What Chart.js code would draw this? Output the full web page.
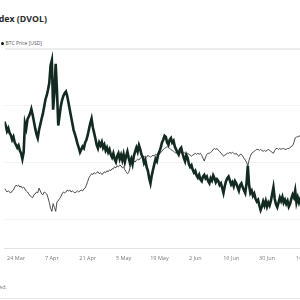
<!DOCTYPE html>
<html>
<head>
<meta charset="utf-8">
<script src="https://cdn.jsdelivr.net/npm/chart.js@4/dist/chart.umd.min.js"></script>
<style>
  html, body { margin: 0; padding: 0; background: #fff; }
  body { width: 300px; height: 300px; overflow: hidden; position: relative; font-family: 'Open Sans', sans-serif; }
  #title { position: absolute; right: 253px; top: 14px; line-height: 10px; font-size: 8.8px; font-weight: 700; color: #2b2b2b; white-space: nowrap; }
  #legend { position: absolute; right: 258px; top: 40px; line-height: 6px; font-size: 5px; color: #555; white-space: nowrap; }
  #legend .dot { display: inline-block; width: 3px; height: 3px; border-radius: 50%; background: #111; margin: 0 1.5px 0 4px; vertical-align: middle; }
  #note { position: absolute; right: 293px; top: 284px; line-height: 6px; font-size: 5.5px; color: #777; white-space: nowrap; }
  #rule { position: absolute; left: 0; width: 300px; top: 298px; height: 1px; background: #e8e8e8; }
  #wrap { position: absolute; left: 0; top: 0; width: 340px; height: 300px; }
</style>
</head>
<body>
<div id="title">BTC Price vs. Bitcoin Volatility Index (DVOL)</div>
<div id="legend"><span class="dot" style="background:#122a1f"></span>DVOL <span class="dot"></span>BTC Price [USD]</div>
<div id="wrap"><canvas id="chart"></canvas></div>
<div id="note">Source: Deribit. All rights reserved.</div>
<div id="rule"></div>
<script>
// sampling grid: day 0 = 24 Mar, one value every half day
const START_DAY = -5;
const STEP_DAYS = 0.5;

const tickDays = [0, 14, 28, 42, 56, 70, 84, 98, 112];
const tickLabels = ['24 Mar', '7 Apr', '21 Apr', '5 May', '19 May', '2 Jun', '16 Jun', '30 Jun', '14 Jul'];
const dvolGridTicks = [40, 50, 60, 70];

const dvol = [
  57.9, 57.2, 56.5, 55.5, 56.0, 55.2, 54.8, 54.0, 54.5, 53.5,
  53.1, 52.6, 53.0, 52.1, 51.6, 50.6, 51.8, 56.9, 56.0, 57.6,
  58.1, 58.6, 59.4, 58.4, 57.2, 56.0, 55.0, 54.3, 55.7, 56.7,
  57.7, 58.6, 59.8, 61.1, 61.8, 62.8, 64.0, 67.1, 68.0, 59.3,
  62.3, 67.4, 62.7, 56.5, 58.2, 59.9, 61.0, 61.7, 62.2, 62.5,
  61.7, 60.5, 59.3, 58.1, 56.9, 55.7, 55.0, 54.2, 53.3, 52.6,
  51.8, 52.3, 52.8, 52.5, 53.5, 54.0, 54.8, 55.9, 56.9, 57.7,
  56.2, 55.2, 54.2, 53.1, 52.5, 53.5, 53.0, 53.6, 52.6, 53.1,
  52.1, 52.6, 51.8, 52.3, 51.4, 50.9, 51.6, 50.6, 50.1, 51.1,
  51.6, 50.6, 51.3, 50.4, 51.4, 50.1, 51.1, 51.9, 50.8, 49.9,
  50.6, 49.7, 51.1, 51.9, 52.6, 51.9, 53.0, 52.3, 51.4, 50.9,
  49.9, 50.4, 49.2, 48.5, 47.2, 46.3, 47.7, 48.7, 49.7, 50.6,
  50.2, 51.4, 51.9, 52.6, 53.5, 54.0, 54.7, 54.5, 53.5, 53.1,
  54.0, 54.3, 53.5, 53.8, 52.8, 52.3, 51.8, 51.4, 52.3, 52.6,
  51.6, 50.8, 50.2, 51.3, 50.8, 49.7, 49.2, 49.5, 48.7, 48.2,
  48.5, 47.7, 47.3, 47.8, 47.0, 46.7, 47.5, 47.8, 47.2, 47.5,
  46.7, 46.3, 47.2, 46.8, 47.7, 47.2, 46.5, 47.0, 46.7, 46.0,
  46.3, 45.5, 44.6, 45.8, 46.7, 47.2, 47.5, 46.8, 46.1, 46.5,
  45.8, 46.7, 46.3, 45.6, 45.0, 46.0, 46.3, 45.6, 45.1, 44.6,
  46.3, 49.4, 46.0, 44.6, 45.0, 44.1, 44.5, 43.6, 43.1, 43.4,
  42.4, 41.6, 42.2, 43.1, 42.4, 43.2, 42.2, 42.9, 42.4, 43.2,
  44.4, 45.6, 43.6, 42.6, 42.1, 42.9, 43.8, 43.2, 43.9, 42.9,
  43.4, 42.7, 43.2, 42.2, 42.7, 43.6, 44.3, 43.8, 45.0, 42.9,
  43.8, 42.9, 43.6, 43.2, 43.8
];

const btcPrice = [
  89600, 89000, 87900, 86800, 87400, 86800, 86300, 87400, 87900, 89600,
  90700, 90100, 90700, 89600, 90100, 89000, 89600, 88500, 87400, 86800,
  85700, 84600, 84100, 83500, 85200, 85700, 86800, 86300, 89000, 87400,
  85700, 85200, 86800, 86300, 85700, 83500, 80800, 77500, 75800, 80200,
  78000, 75800, 81300, 81800, 83000, 84100, 85700, 86800, 86300, 86800,
  87900, 87400, 87900, 86800, 87400, 86800, 86300, 86800, 87400, 86800,
  87400, 87900, 87400, 88500, 89000, 90700, 92800, 95000, 96100, 97200,
  96700, 97800, 97200, 97800, 98300, 97200, 97800, 96700, 97200, 98300,
  97800, 98900, 98300, 99400, 98900, 100000, 100000, 101100, 100500, 101600,
  101100, 102200, 101600, 100500, 101100, 99400, 98300, 97200, 97800, 100500,
  102700, 103800, 104400, 103800, 104900, 105500, 104900, 106000, 106600, 107100,
  106600, 107100, 106600, 107700, 107100, 106600, 107100, 107700, 107100, 108200,
  107700, 108800, 108200, 109300, 109900, 111000, 111500, 112000, 112600, 112000,
  111500, 111000, 110400, 109900, 109300, 108800, 109300, 108200, 108800, 109300,
  108800, 109300, 108800, 108200, 108800, 108200, 107700, 107100, 107700, 108200,
  108800, 108200, 108800, 108200, 108800, 107700, 106000, 104400, 106600, 108200,
  108800, 108800, 109300, 109900, 111000, 111500, 111000, 111500, 110400, 109900,
  108800, 108200, 107100, 107700, 108200, 108800, 108800, 109300, 108800, 109300,
  108800, 108200, 108800, 107700, 107100, 108200, 108200, 107100, 106000, 104900,
  103800, 101600, 104900, 107100, 108800, 109300, 109900, 110400, 111000, 111000,
  110400, 111000, 110400, 109900, 110400, 109900, 110400, 111000, 110400, 109900,
  109300, 108800, 110400, 111500, 111500, 111000, 111500, 111000, 111500, 111500,
  111000, 111000, 111500, 111500, 112000, 112600, 113100, 114900, 117500, 118100,
  118100, 118600, 118600, 118100, 118600
];

const toPoints = (values) => values.map((v, i) => ({ x: START_DAY + i * STEP_DAYS, y: v }));

const tickFont = { family: "'Open Sans', sans-serif", size: 5.5 };

new Chart(document.getElementById('chart'), {
  type: 'line',
  data: {
    datasets: [
      {
        label: 'DVOL',
        data: toPoints(dvol),
        yAxisID: 'yDvol',
        borderColor: '#122a1f',
        borderWidth: 2.6,
        pointRadius: 0,
        tension: 0,
      },
      {
        label: 'BTC Price [USD]',
        data: toPoints(btcPrice),
        yAxisID: 'yBtc',
        borderColor: '#3a3a3a',
        borderWidth: 0.9,
        pointRadius: 0,
        tension: 0,
      }
    ]
  },
  options: {
    responsive: true,
    maintainAspectRatio: false,
    animation: false,
    layout: { padding: { top: 49, bottom: 31.4, left: 0, right: 0 } },
    plugins: {
      legend: { display: false },
      title: { display: false },
      tooltip: { enabled: false },
    },
    scales: {
      x: {
        type: 'linear',
        min: -4.43,
        max: 126.49,
        afterBuildTicks: (axis) => { axis.ticks = tickDays.map(v => ({ value: v })); },
        ticks: {
          autoSkip: false,
          maxRotation: 0,
          padding: 7,
          color: '#7a7a7a',
          font: tickFont,
          callback: (value) => tickLabels[tickDays.indexOf(value)] ?? '',
        },
        grid: { display: false, drawTicks: false },
        border: { color: '#e3e3e3', width: 1 },
      },
      yDvol: {
        position: 'left',
        min: 34.9,
        max: 70,
        afterBuildTicks: (axis) => { axis.ticks = dvolGridTicks.map(v => ({ value: v })); },
        afterFit: (axis) => { axis.width = 0; },
        ticks: { display: false },
        grid: {
          drawTicks: false,
          color: (ctx) => ctx.tick && ctx.tick.value === 70 ? '#ececec' : '#f3f3f3',
          lineWidth: (ctx) => ctx.tick && ctx.tick.value === 70 ? 2 : 1,
        },
        border: { display: false },
      },
      yBtc: {
        display: false,
        min: 55000,
        max: 168000,
      }
    }
  }
});
</script>
</body>
</html>
